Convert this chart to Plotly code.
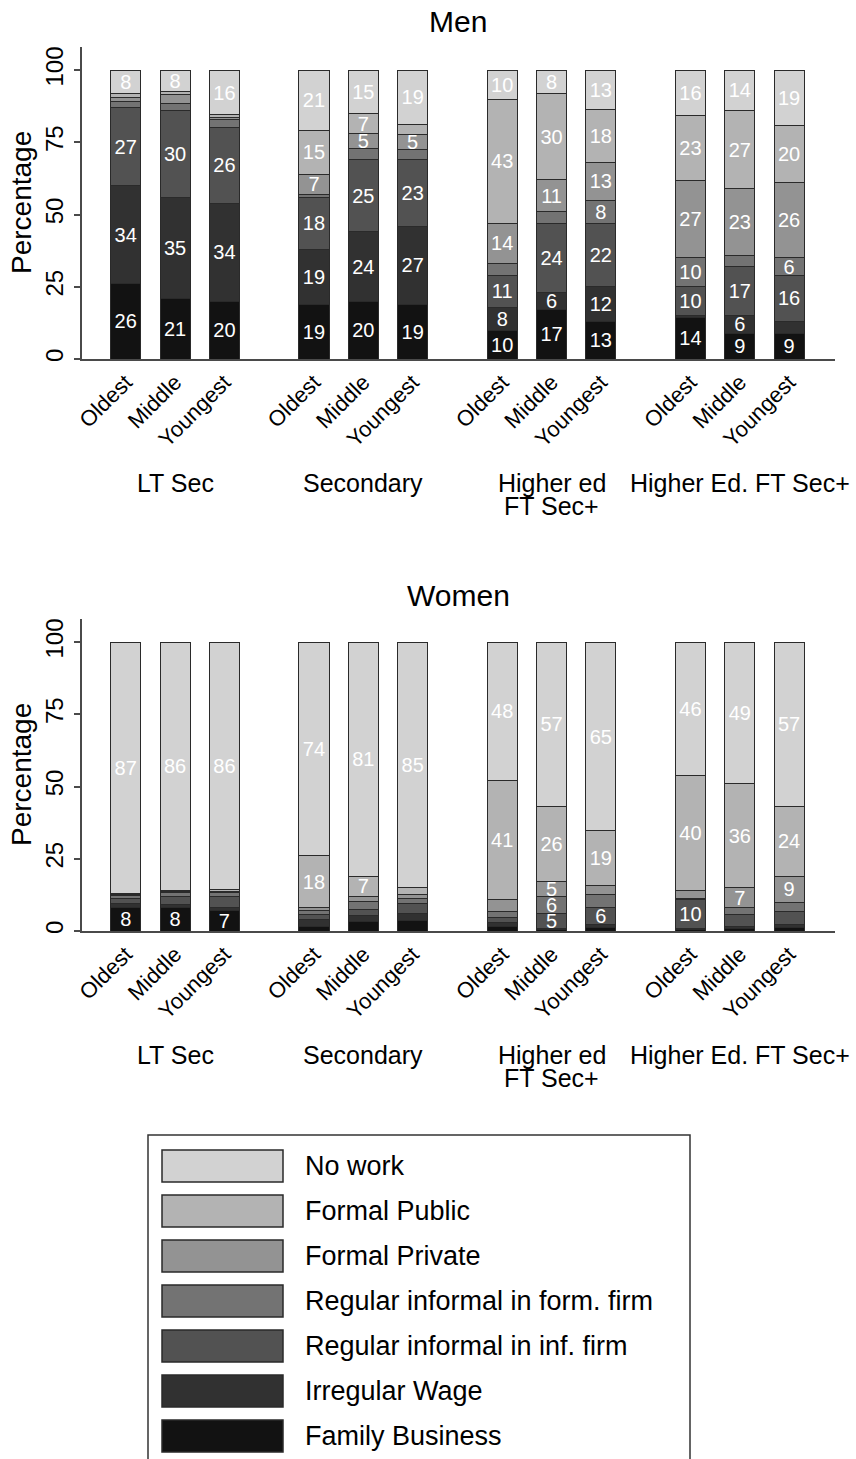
import plotly.graph_objects as go

W, H = 856, 1459
FONT = "Liberation Sans, Arial, Helvetica, sans-serif"

# ---- data -------------------------------------------------------------
cohorts = ["Oldest", "Middle", "Youngest"]
education = ["LT Sec", "Secondary", "Higher ed\nFT Sec+", "Higher Ed. FT Sec+"]
series = [
    "No work",
    "Formal Public",
    "Formal Private",
    "Regular informal in form. firm",
    "Regular informal in inf. firm",
    "Irregular Wage",
    "Family Business",
]

# percentages, one entry per bar: education group x cohort (Oldest, Middle, Youngest)
men_no_work = [8, 7.5, 15.5, 21, 15, 18.9, 10, 8, 13.4, 15.6, 14.1, 19]
men_formal_public = [1.5, 1, 0.8, 15, 7, 3.4, 43, 30, 18.4, 22.6, 27, 20]
men_formal_private = [1.5, 3, 0.7, 7, 5, 5.3, 14, 11, 13, 26.6, 23, 26]
men_reg_inf_formal = [2, 2.5, 3, 1, 4, 3.4, 4, 4, 8, 10, 3.9, 6]
men_reg_inf_informal = [27, 30, 26, 18, 25, 23, 11, 24, 22, 10, 17, 16]
men_irregular = [34, 35, 34, 19, 24, 27, 8, 6, 12, 0.9, 6, 4]
men_family = [26, 21, 20, 19, 20, 19, 10, 17, 13, 14.3, 9, 9]

women_no_work = [87, 86, 85.8, 74, 81, 85, 48, 57, 65, 46, 49, 57]
women_formal_public = [0.4, 0.3, 0.5, 18, 7, 2.5, 41, 26, 19, 40, 36, 24]
women_formal_private = [0.4, 0.4, 0.5, 0.8, 1.8, 1.2, 4.2, 5, 3.2, 2.6, 7, 9]
women_reg_inf_formal = [0.8, 1.5, 1.4, 1.4, 2.6, 1.8, 2.0, 6, 4.3, 0.5, 2.3, 3.4]
women_reg_inf_informal = [2.0, 2.5, 3.5, 1.8, 2.4, 3.5, 2.0, 5, 6, 10, 4.2, 4.4]
women_irregular = [1.4, 1.3, 1.1, 2.5, 2.0, 2.2, 1.3, 0.4, 1.0, 0.4, 0.8, 1.0]
women_family = [8, 8, 7.2, 1.5, 3.2, 3.8, 1.5, 0.6, 1.3, 0.5, 0.7, 1.2]

y_ticks = [0, 25, 50, 75, 100]

# ---- styling ----------------------------------------------------------
colors = {
    "No work": "#d2d2d2",
    "Formal Public": "#b3b3b3",
    "Formal Private": "#939393",
    "Regular informal in form. firm": "#737373",
    "Regular informal in inf. firm": "#525252",
    "Irregular Wage": "#313131",
    "Family Business": "#121212",
}
OUTLINE = "#2a2a2a"
GROUP_STEP = 3.815
BAR_WIDTH = 0.61

positions = [g * GROUP_STEP + i for g in range(len(education)) for i in range(len(cohorts))]
tick_text = cohorts * len(education)

panels = [
    {
        "title": "Men", "x": "x", "y": "y", "top": 47, "bottom": 359, "title_y": 22,
        "data": {
            "No work": men_no_work,
            "Formal Public": men_formal_public,
            "Formal Private": men_formal_private,
            "Regular informal in form. firm": men_reg_inf_formal,
            "Regular informal in inf. firm": men_reg_inf_informal,
            "Irregular Wage": men_irregular,
            "Family Business": men_family,
        },
    },
    {
        "title": "Women", "x": "x2", "y": "y2", "top": 619, "bottom": 931, "title_y": 595,
        "data": {
            "No work": women_no_work,
            "Formal Public": women_formal_public,
            "Formal Private": women_formal_private,
            "Regular informal in form. firm": women_reg_inf_formal,
            "Regular informal in inf. firm": women_reg_inf_informal,
            "Irregular Wage": women_irregular,
            "Family Business": women_family,
        },
    },
]


def px(p):
    return p / W


def py(p):
    return 1 - p / H


PLOT_LEFT, PLOT_RIGHT = 82, 835
fig = go.Figure()
annotations = []
shapes = []
layout_axes = {}

for k, panel in enumerate(panels):
    # stack from the bottom of the legend list upwards
    for name in reversed(series):
        vals = panel["data"][name]
        fig.add_trace(go.Bar(
            x=positions, y=vals, width=BAR_WIDTH, name=name,
            xaxis=panel["x"], yaxis=panel["y"],
            marker=dict(color=colors[name], line=dict(color=OUTLINE, width=1)),
            text=[f"{v:.0f}" if v >= 4.5 else "" for v in vals],
            textposition="inside", insidetextanchor="middle",
            textangle=0, constraintext="none",
            textfont=dict(color="white", size=20, family=FONT),
            showlegend=False, hoverinfo="name+y",
        ))

    suffix = "" if k == 0 else str(k + 1)
    layout_axes["xaxis" + suffix] = dict(
        domain=[px(PLOT_LEFT), px(PLOT_RIGHT)],
        range=[-0.886, positions[-1] + 0.93],
        anchor="y" + suffix,
        tickvals=positions, ticktext=tick_text, tickangle=-45,
        tickfont=dict(size=22, family=FONT, color="black"),
        showline=True, linecolor="#4a4a4a", linewidth=1.5,
        ticks="", showgrid=False, zeroline=False, automargin=False,
    )
    layout_axes["yaxis" + suffix] = dict(
        domain=[py(panel["bottom"]), py(panel["top"])],
        range=[0, 108], anchor="x" + suffix,
        tickvals=y_ticks, tickangle=-90,
        tickfont=dict(size=24, family=FONT, color="black"),
        ticks="outside", ticklen=6, tickcolor="#4a4a4a", tickwidth=1.5,
        ticklabelstandoff=2,
        showline=True, linecolor="#4a4a4a", linewidth=1.5,
        showgrid=False, zeroline=False, automargin=False,
    )

    mid_y = (panel["top"] + panel["bottom"]) / 2
    annotations.append(dict(
        text="Percentage", x=px(21), y=py(mid_y), xref="paper", yref="paper",
        textangle=-90, showarrow=False, xanchor="center", yanchor="middle",
        font=dict(size=28, family=FONT, color="black"),
    ))
    annotations.append(dict(
        text=panel["title"], x=px((PLOT_LEFT + PLOT_RIGHT) / 2), y=py(panel["title_y"]),
        xref="paper", yref="paper", showarrow=False,
        xanchor="center", yanchor="middle",
        font=dict(size=30, family=FONT, color="black"),
    ))
    # education group labels under the cohort ticks
    for g, label in enumerate(education):
        for j, line in enumerate(label.split("\n")):
            annotations.append(dict(
                text=line, x=g * GROUP_STEP + 1, xref=panel["x"],
                y=py(panel["bottom"] + 124 + 23 * j), yref="paper",
                showarrow=False, xanchor="center", yanchor="middle",
                font=dict(size=25, family=FONT, color="black"),
            ))

# ---- legend box -------------------------------------------------------
shapes.append(dict(
    type="rect", xref="paper", yref="paper",
    x0=px(148), x1=px(690), y0=py(1470), y1=py(1135),
    line=dict(color="#333333", width=1.5), fillcolor="rgba(0,0,0,0)",
))
for i, name in enumerate(series):
    cy = 1166 + 45 * i
    shapes.append(dict(
        type="rect", xref="paper", yref="paper",
        x0=px(162), x1=px(283), y0=py(cy + 16), y1=py(cy - 16),
        line=dict(color=OUTLINE, width=1.5), fillcolor=colors[name],
    ))
    annotations.append(dict(
        text=name, x=px(303), y=py(cy), xref="paper", yref="paper",
        showarrow=False, xanchor="left", yanchor="middle",
        font=dict(size=27, family=FONT, color="black"),
    ))

fig.update_layout(
    width=W, height=H,
    margin=dict(l=0, r=0, t=0, b=0),
    paper_bgcolor="white", plot_bgcolor="white",
    barmode="stack",
    font=dict(family=FONT, color="black"),
    annotations=annotations, shapes=shapes,
    **layout_axes,
)

fig.write_html("out.html")
